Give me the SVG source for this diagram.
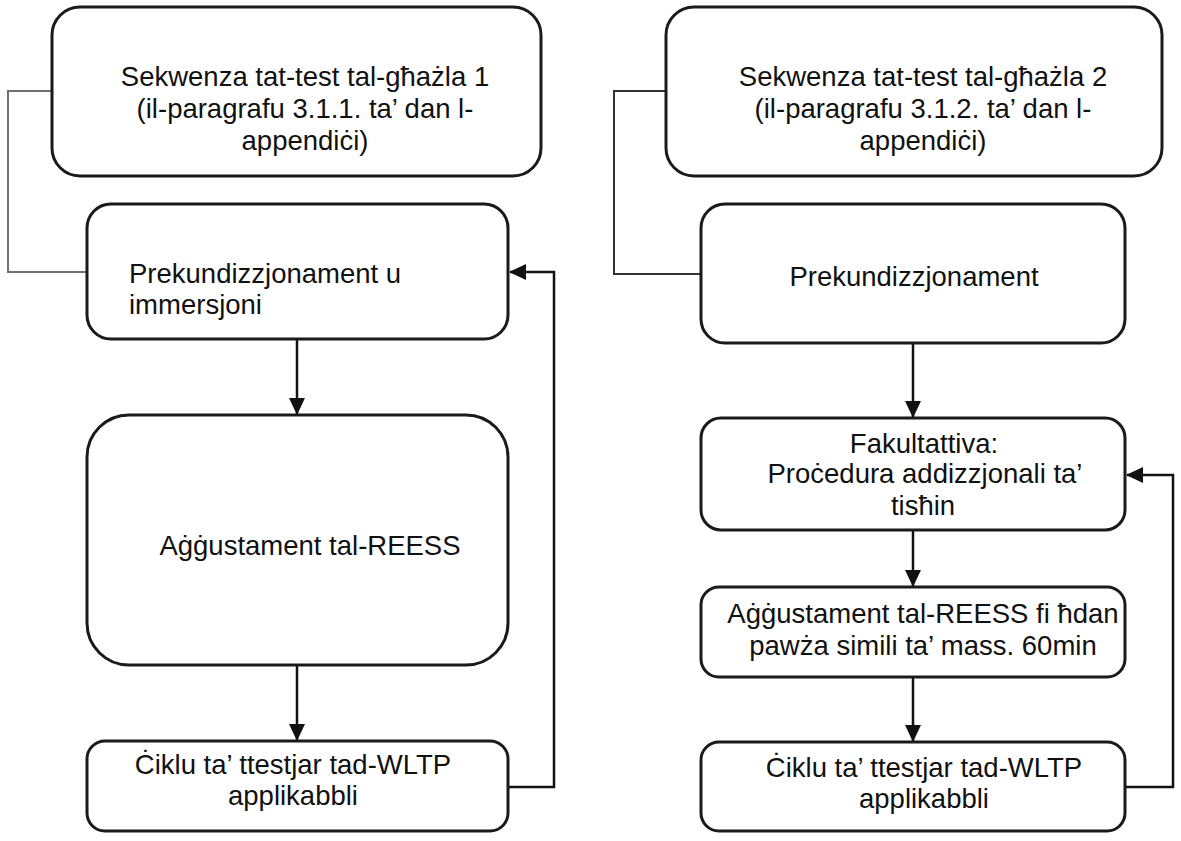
<svg xmlns="http://www.w3.org/2000/svg" width="1181" height="841" viewBox="0 0 1181 841">
<style>
.box{fill:#fff;stroke:#1a1a1a;stroke-width:3}
.t{font-family:"Liberation Sans",Arial,sans-serif;font-size:27.5px;fill:#111}
.c{text-anchor:middle}
.conn{fill:none;stroke:#111;stroke-width:2.5}
</style>
<defs>
<marker id="ah" markerWidth="18" markerHeight="16" refX="16" refY="8" orient="auto" markerUnits="userSpaceOnUse">
<path d="M0,0 L17,8 L0,16 Z" fill="#111"/>
</marker>
</defs>
<rect width="1181" height="841" fill="#fff"/>
<g id="connectors">
<path class="conn" d="M52,91 H8 V272 H87" style="stroke:#707070;stroke-width:2"/>
<path class="conn" d="M666,91 H614 V274 H701" style="stroke:#333;stroke-width:2"/>
<path class="conn" d="M297,339 V414" marker-end="url(#ah)"/>
<path class="conn" d="M297,665 V740" marker-end="url(#ah)"/>
<path class="conn" d="M508,787 H554 V272 H510" marker-end="url(#ah)"/>
<path class="conn" d="M913,343 V417" marker-end="url(#ah)"/>
<path class="conn" d="M913,530 V586" marker-end="url(#ah)"/>
<path class="conn" d="M913,677 V741" marker-end="url(#ah)"/>
<path class="conn" d="M1125,787 H1173 V475 H1127" marker-end="url(#ah)"/>
</g>
<g id="L1">
<rect class="box" x="52" y="7" width="489" height="169" rx="28"/>
<text class="t c" x="305" y="86">Sekwenza tat-test tal-għażla 1</text>
<text class="t c" x="305" y="118">(il-paragrafu 3.1.1. ta’ dan l-</text>
<text class="t c" x="305" y="150">appendiċi)</text>
</g>
<g id="L2">
<rect class="box" x="87" y="204" width="421" height="135" rx="24"/>
<text class="t" x="129" y="283">Prekundizzjonament u</text>
<text class="t" x="129" y="314">immersjoni</text>
</g>
<g id="L3">
<rect class="box" x="87" y="415" width="421" height="250" rx="42"/>
<text class="t c" x="310" y="555">Aġġustament tal-REESS</text>
</g>
<g id="L4">
<rect class="box" x="87" y="741" width="421" height="90" rx="18"/>
<text class="t c" x="293" y="774">Ċiklu ta’ ttestjar tad-WLTP</text>
<text class="t c" x="293" y="805">applikabbli</text>
</g>
<g id="R1">
<rect class="box" x="666" y="7" width="496" height="169" rx="28"/>
<text class="t c" x="923" y="86">Sekwenza tat-test tal-għażla 2</text>
<text class="t c" x="923" y="118">(il-paragrafu 3.1.2. ta’ dan l-</text>
<text class="t c" x="923" y="150">appendiċi)</text>
</g>
<g id="R2">
<rect class="box" x="701" y="204" width="424" height="139" rx="24"/>
<text class="t c" x="914" y="286">Prekundizzjonament</text>
</g>
<g id="R3">
<rect class="box" x="701" y="418" width="424" height="112" rx="20"/>
<text class="t c" x="924" y="453">Fakultattiva:</text>
<text class="t c" x="925" y="483">Proċedura addizzjonali ta’</text>
<text class="t c" x="923" y="515">tisħin</text>
</g>
<g id="R4">
<rect class="box" x="701" y="587" width="424" height="90" rx="18"/>
<text class="t c" x="923" y="623">Aġġustament tal-REESS fi ħdan</text>
<text class="t c" x="923" y="655">pawża simili ta’ mass. 60min</text>
</g>
<g id="R5">
<rect class="box" x="701" y="742" width="424" height="89" rx="18"/>
<text class="t c" x="924" y="777">Ċiklu ta’ ttestjar tad-WLTP</text>
<text class="t c" x="924" y="808">applikabbli</text>
</g>
</svg>
